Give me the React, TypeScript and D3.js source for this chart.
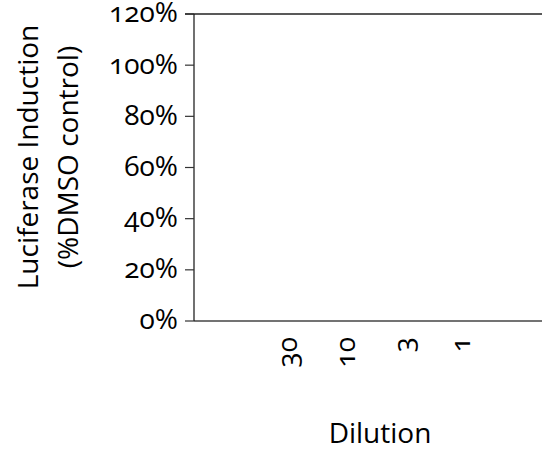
import React from "react";
import * as d3 from "d3";

const categories = ["30", "10", "3", "1"];
const yTicks = [0, 20, 40, 60, 80, 100, 120];
const yMax = 120;
const yTitleLines = ["Luciferase Induction", "(%DMSO control)"];
const xTitle = "Dilution";

const W = 542;
const H = 449;
const left = 194;
const right = 542;
const top = 14;
const bottom = 321;

export default function App() {
  const y = d3.scaleLinear().domain([0, yMax]).range([bottom, top]);
  const x = d3.scalePoint<string>().domain(categories).range([289, 462]);
  const tickFont = "'Open Sans', sans-serif";
  const labelFont = "'Open Sans', sans-serif";
  const numStyle = { fontVariantNumeric: "oldstyle-nums", fontFeatureSettings: "'onum' 1" } as const;
  return (
    <svg width={W} height={H} style={{ position: "absolute", left: 0, top: 0, background: "#fff" }}>
      <line x1={185} x2={right} y1={y(yMax)} y2={y(yMax)} stroke="#222" strokeWidth={1.3} />
      <line x1={left} x2={right} y1={y(0)} y2={y(0)} stroke="#444" strokeWidth={1.3} />
      <line x1={left} x2={left} y1={y(yMax)} y2={y(0)} stroke="#111" strokeWidth={1.2} />
      {yTicks.map((t) => (
        <g key={t}>
          <line x1={185} x2={left} y1={y(t)} y2={y(t)} stroke="#333" strokeWidth={1.2} />
          <text
            x={178}
            y={y(t)}
            dy="0.3em"
            textAnchor="end"
            fontFamily={tickFont}
            fontSize={28}
            style={numStyle}
            fill="#000"
          >
            {t}%
          </text>
        </g>
      ))}
      {categories.map((c) => (
        <text
          key={c}
          transform={`translate(${x(c)},337) rotate(-90)`}
          dy="0.3em"
          textAnchor="end"
          fontFamily={tickFont}
          fontSize={28}
          style={numStyle}
          fill="#000"
        >
          {c}
        </text>
      ))}
      {yTitleLines.map((l, i) => (
        <text
          key={i}
          transform={`translate(${28 + i * 40},157) rotate(-90)`}
          dy="0.35em"
          textAnchor="middle"
          fontFamily={labelFont}
          fontSize={28}
          fill="#000"
        >
          {l}
        </text>
      ))}
      <text x={380} y={443} textAnchor="middle" fontFamily={labelFont} fontSize={28} fill="#000">
        {xTitle}
      </text>
    </svg>
  );
}
